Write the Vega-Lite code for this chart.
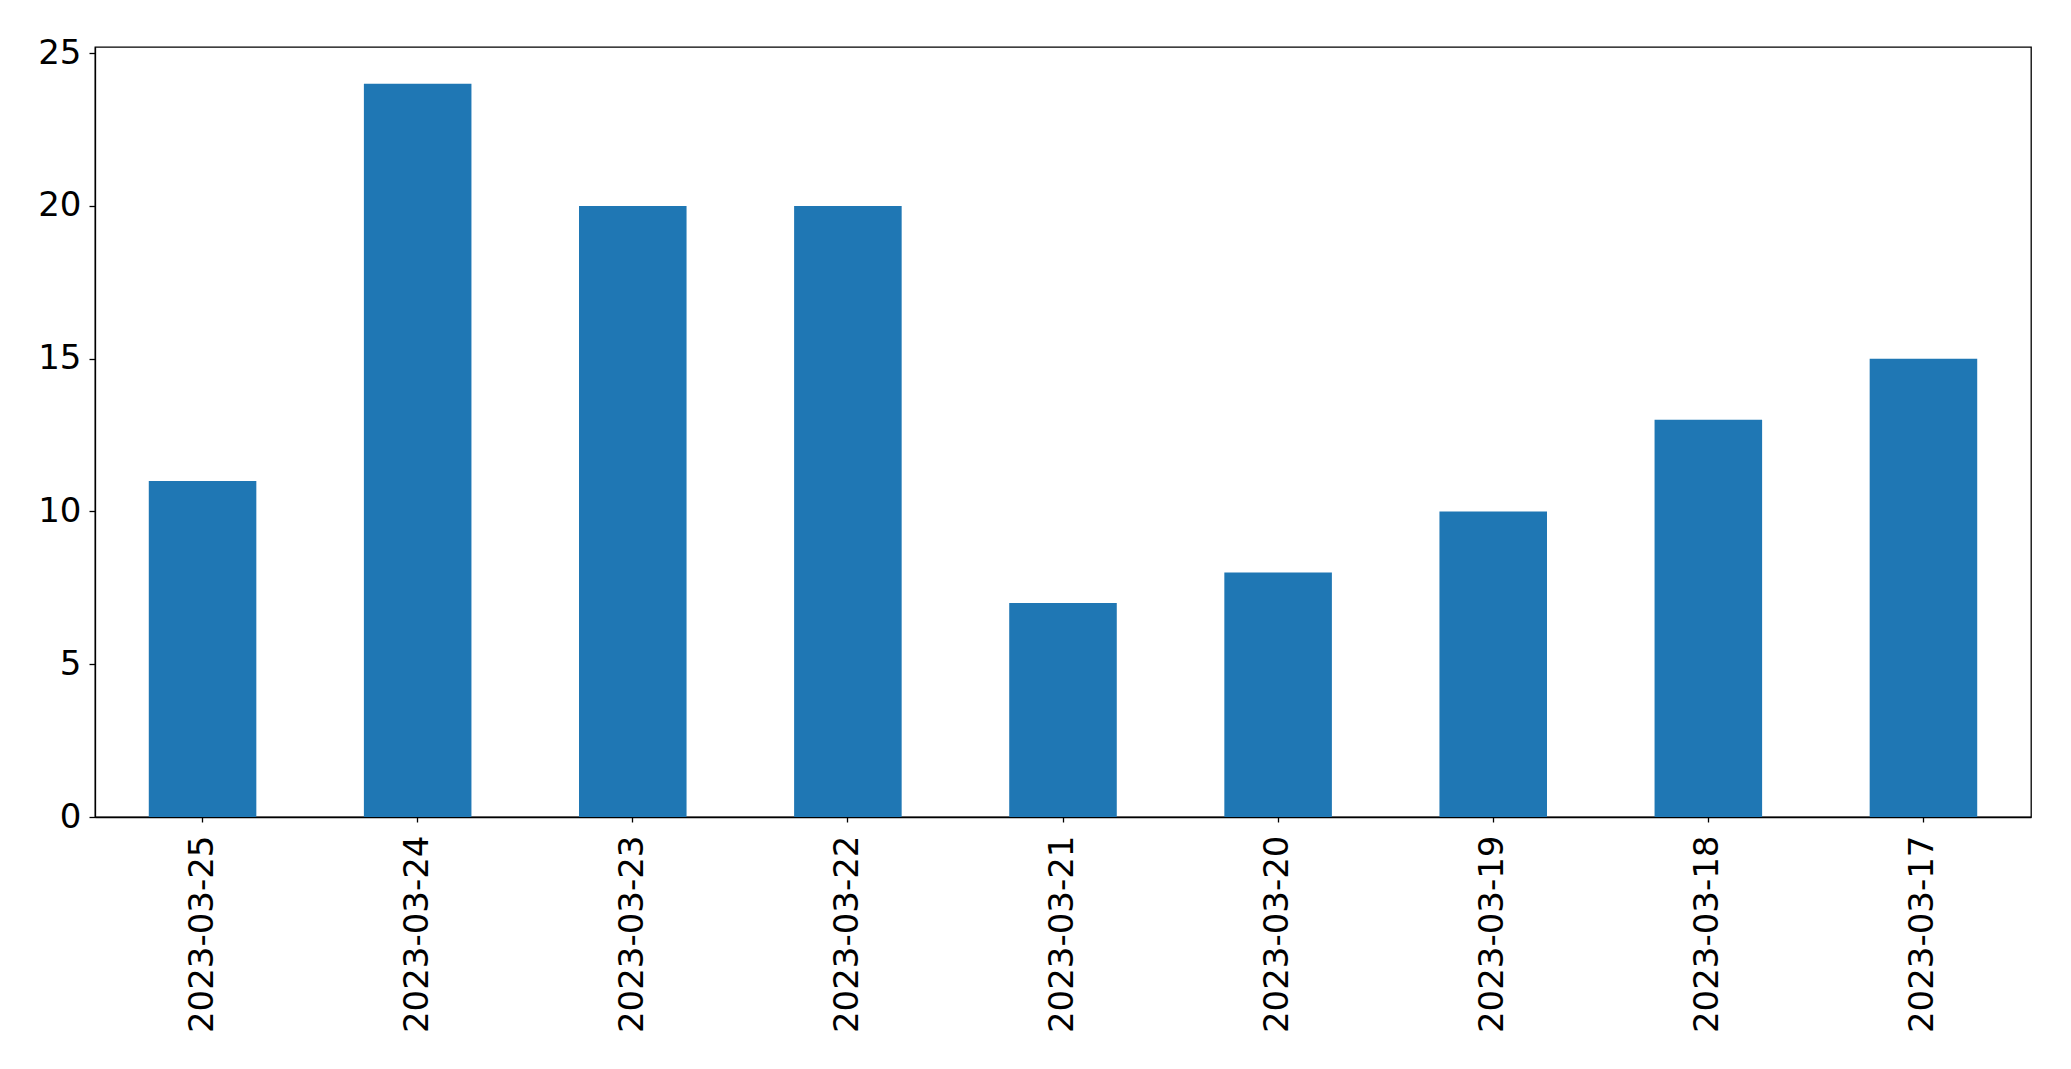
{
  "$schema": "https://vega.github.io/schema/vega-lite/v6.json",
  "width": 1936,
  "height": 770,
  "autosize": {"type": "none"},
  "padding": {"left": 95, "top": 47, "right": 40, "bottom": 252},
  "background": "white",
  "data": {
    "values": [
      {"date": "2023-03-25", "count": 11},
      {"date": "2023-03-24", "count": 24},
      {"date": "2023-03-23", "count": 20},
      {"date": "2023-03-22", "count": 20},
      {"date": "2023-03-21", "count": 7},
      {"date": "2023-03-20", "count": 8},
      {"date": "2023-03-19", "count": 10},
      {"date": "2023-03-18", "count": 13},
      {"date": "2023-03-17", "count": 15}
    ]
  },
  "mark": {"type": "bar", "color": "#1f77b4"},
  "encoding": {
    "x": {
      "field": "date",
      "type": "nominal",
      "sort": null,
      "scale": {"paddingInner": 0.5, "paddingOuter": 0.25},
      "axis": {
        "title": null,
        "labelAngle": -90,
        "labelAlign": "right",
        "labelBaseline": "middle",
        "labelPadding": 13,
        "labelLimit": 0,
        "tickSize": 5,
        "labelFontSize": 34
      }
    },
    "y": {
      "field": "count",
      "type": "quantitative",
      "scale": {"domain": [0, 25.2], "nice": false},
      "axis": {
        "title": null,
        "values": [0, 5, 10, 15, 20, 25],
        "grid": false,
        "tickSize": 6,
        "labelPadding": 8,
        "labelFontSize": 34
      }
    }
  },
  "config": {
    "view": {"stroke": "black", "strokeWidth": 1.3},
    "axis": {
      "labelFont": "DejaVu Sans",
      "labelColor": "black",
      "domainColor": "black",
      "domainWidth": 1.3,
      "tickColor": "black",
      "tickWidth": 1.3,
      "labelFlush": false,
      "labelOverlap": false
    }
  }
}
